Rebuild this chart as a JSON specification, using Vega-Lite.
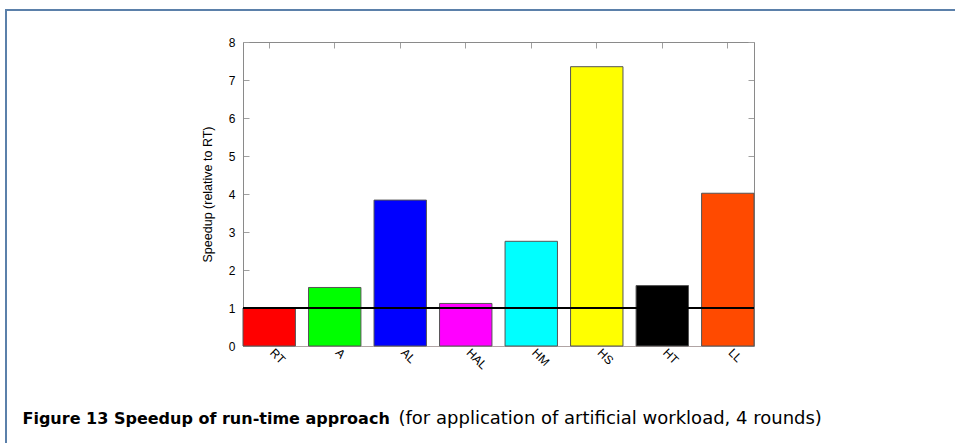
{
  "$schema": "https://vega.github.io/schema/vega-lite/v6.json",
  "width": 949,
  "height": 433,
  "autosize": {"type": "none"},
  "padding": {"left": 6, "top": 10, "right": 0, "bottom": 0},
  "background": "white",
  "config": {
    "view": {"stroke": "#5b80aa", "strokeWidth": 2, "strokeDash": [949, 1382, 433], "fill": null},
    "axis": {"grid": false, "labelFont": "Liberation Sans", "labelFontSize": 12, "labelColor": "black", "titleFont": "Liberation Sans", "titleFontSize": 12.5, "titleColor": "black", "titleFontWeight": "normal", "domainColor": "#8a8a8a", "tickColor": "#a0a0a0"}
  },
  "datasets": {
    "speed": [
      {"approach": "RT", "speedup": 1.0},
      {"approach": "A", "speedup": 1.54},
      {"approach": "AL", "speedup": 3.84},
      {"approach": "HAL", "speedup": 1.12},
      {"approach": "HM", "speedup": 2.755},
      {"approach": "HS", "speedup": 7.35},
      {"approach": "HT", "speedup": 1.59},
      {"approach": "LL", "speedup": 4.02}
    ],
    "ref": [{"from": 0, "to": 1, "level": 1}]
  },
  "resolve": {"scale": {"x": "independent"}, "axis": {"x": "independent", "y": "independent"}},
  "layer": [
    {
      "data": {"name": "speed"},
      "mark": {"type": "bar", "stroke": "#555555", "strokeWidth": 1},
      "encoding": {
        "x": {
          "field": "approach", "type": "nominal", "sort": null,
          "scale": {"range": [237, 748], "paddingInner": 0.2, "paddingOuter": 0},
          "axis": {
            "orient": "bottom", "offset": -97, "ticks": false, "domainColor": "#b0a4a4",
            "labelAngle": 45, "labelAlign": "left", "labelBaseline": "alphabetic", "labelPadding": 7,
            "title": "Figure 13  Speedup of run-time approach",
            "titleFont": "DejaVu Sans", "titleFontSize": 16, "titleFontWeight": "bold",
            "titleX": 16, "titleY": 77, "titleAlign": "left", "titleBaseline": "alphabetic", "titleAngle": 0
          }
        },
        "y": {
          "field": "speedup", "type": "quantitative",
          "scale": {"domain": [0, 8], "range": [336, 32], "nice": false},
          "axis": {
            "orient": "left", "offset": -237, "values": [0, 1, 2, 3, 4, 5, 6, 7, 8],
            "tickSize": -6, "labelPadding": 14,
            "title": "Speedup (relative to RT)", "titleX": -36, "titleY": 184,
            "titleAngle": -90, "titleAlign": "center", "titleBaseline": "middle"
          }
        },
        "color": {
          "field": "approach", "type": "nominal", "legend": null,
          "scale": {
            "domain": ["RT", "A", "AL", "HAL", "HM", "HS", "HT", "LL"],
            "range": ["#ff0000", "#00ff00", "#0000ff", "#ff00ff", "#00ffff", "#ffff00", "#000000", "#ff4a00"]
          }
        }
      }
    },
    {
      "data": {"name": "speed"},
      "mark": {"type": "bar", "opacity": 0},
      "encoding": {
        "x": {
          "field": "approach", "type": "nominal", "sort": null,
          "scale": {"range": [237, 748], "paddingInner": 0.2, "paddingOuter": 0},
          "axis": {
            "orient": "top", "offset": -32, "labels": false, "tickSize": -6,
            "title": "(for application of artificial workload, 4 rounds)",
            "titleFont": "DejaVu Sans", "titleFontSize": 18, "titleFontWeight": "normal",
            "titleX": 392, "titleY": 381, "titleAlign": "left", "titleBaseline": "alphabetic", "titleAngle": 0
          }
        },
        "y": {
          "field": "speedup", "type": "quantitative",
          "axis": {"orient": "right", "offset": -201, "values": [0, 1, 2, 3, 4, 5, 6, 7, 8], "labels": false, "tickSize": -6, "title": null}
        }
      }
    },
    {
      "data": {"name": "ref"},
      "mark": {"type": "rule", "color": "black", "strokeWidth": 2},
      "encoding": {
        "x": {"field": "from", "type": "quantitative", "scale": {"domain": [0, 1], "range": [237, 748]}, "axis": null},
        "x2": {"field": "to"},
        "y": {"field": "level", "type": "quantitative", "axis": null}
      }
    }
  ]
}
